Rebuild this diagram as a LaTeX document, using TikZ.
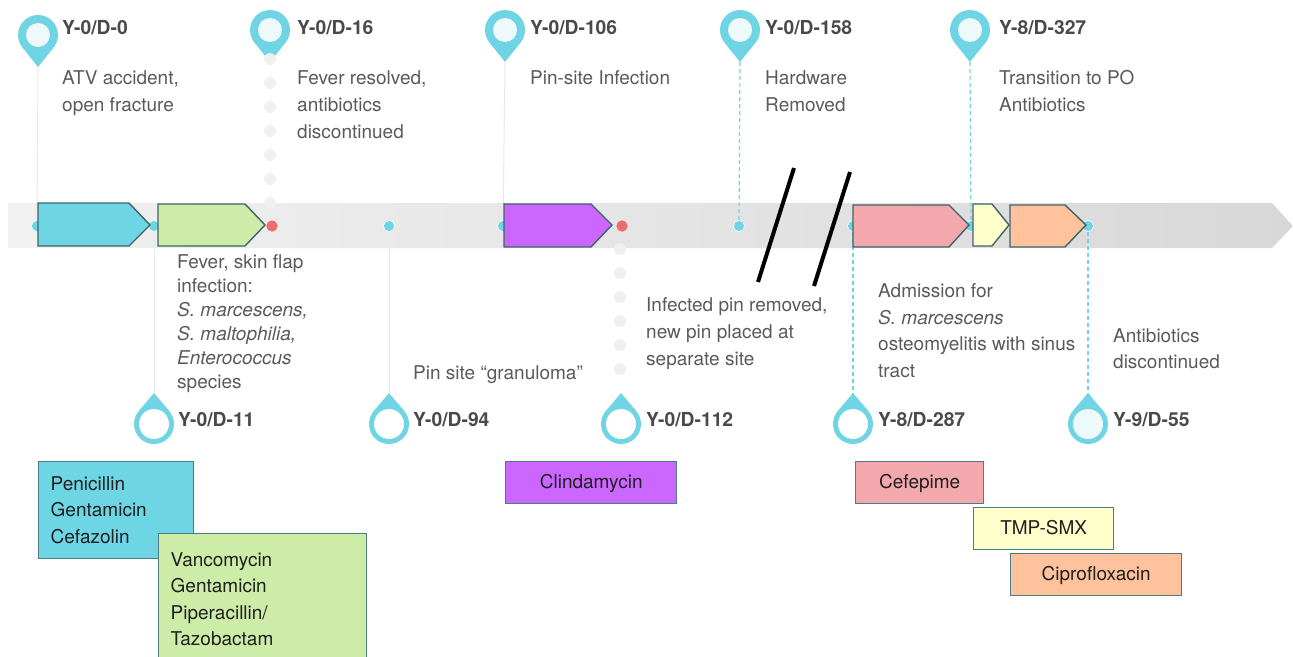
\documentclass[tikz,border=0pt]{standalone}
\usepackage{fontspec}
\setmainfont{TeX Gyre Heros}
\definecolor{pinc}{HTML}{6FD4E3}
\definecolor{pinin}{HTML}{EEF9FB}
\definecolor{arrcyan}{HTML}{6DD5E3}
\definecolor{arrgreen}{HTML}{CDECA8}
\definecolor{arrpurple}{HTML}{CB66FF}
\definecolor{arrpink}{HTML}{F3A8AD}
\definecolor{arryellow}{HTML}{FFFFCC}
\definecolor{arrorange}{HTML}{FEC39C}
\definecolor{edgec}{HTML}{3E6468}
\definecolor{boxedge}{HTML}{4D7D83}
\definecolor{reddot}{HTML}{EE6B6F}
\definecolor{txtgray}{HTML}{5A5A5A}
\definecolor{lblgray}{HTML}{4A4A4A}
\definecolor{chaindot}{HTML}{F0F0F0}
\definecolor{thinline}{HTML}{E8E8E8}
\definecolor{bandl}{HTML}{F1F1F1}
\definecolor{bandr}{HTML}{D8D8D8}
\begin{document}
\begin{tikzpicture}[x=1pt,y=-1pt,
  lbl/.style={anchor=base west, inner sep=0pt, font=\fontsize{19.3}{22}\selectfont\bfseries, text=lblgray},
  note/.style={anchor=base west, inner sep=0pt, align=left, font=\fontsize{19}{27}\selectfont, text=txtgray},
  drug/.style={draw=boxedge, line width=1.4pt, font=\fontsize{19}{26.5}\selectfont, text=black!88, inner sep=0pt, anchor=north west},
  drug1/.style={drug, minimum height=42pt, text height=15pt, text depth=3pt},
  cdot/.style={circle, fill=pinc, draw=white, line width=0.5pt, minimum size=11pt, inner sep=0pt},
  rdot/.style={circle, fill=reddot, minimum size=11pt, inner sep=0pt},
  gdot/.style={circle, fill=chaindot, minimum size=12pt, inner sep=0pt},
  thinln/.style={draw=thinline, line width=1pt},
  dashc/.style={draw=pinc, line width=1.2pt, dash pattern=on 4pt off 3pt},
  tl/.style={draw=edgec, line width=1.4pt, line join=miter},
  slash/.style={draw=black, line width=4pt},
  pics/pintop/.style={code={
    \fill[pinc] (0,0) circle (20pt);
    \fill[pinc] (0,32) -- (-15.6,12.5) -- (15.6,12.5) -- cycle;
    \fill[pinin] (0,0) circle (12pt);
    \coordinate (-tip) at (0,32);
  }},
  pics/pinbot/.style={code={
    \fill[pinc] (0,0) circle (20pt);
    \fill[pinc] (0,-31) -- (-15.3,-12.9) -- (15.3,-12.9) -- cycle;
    \fill[#1] (0,0) circle (15pt);
    \coordinate (-tip) at (0,-31);
  }},
  pics/pinbot/.default=white
]
\useasboundingbox (0,0) rectangle (1293,656);
\clip (0,0) rectangle (1293,656);

% timeline band
\shade[left color=bandl, right color=bandr] (8,203) -- (1272,203) -- (1293,226) -- (1272,248) -- (8,248) -- cycle;

% pins
\pic (t0) at (38,35) {pintop};
\pic (t16) at (270,30) {pintop};
\pic (t106) at (505,30) {pintop};
\pic (t158) at (740,30) {pintop};
\pic (t327) at (970,30) {pintop};
\pic (b11) at (154,424) {pinbot};
\pic (b94) at (389,424) {pinbot};
\pic (b112) at (621,424) {pinbot};
\pic (b287) at (853,424) {pinbot};
\pic (b55) at (1088,424) {pinbot=pinin};

% dots on the band
\node[cdot] (d0) at (37,226) {};
\node[cdot] (d11) at (154,226) {};
\node[rdot] (d16) at (272,226) {};
\node[cdot] (d94) at (389,226) {};
\node[cdot] (d106) at (503,226) {};
\node[rdot] (d112) at (622,226) {};
\node[cdot] (d158) at (739,226) {};
\node[cdot] (d287) at (853,226) {};
\node[cdot] (d327) at (971,226) {};
\node[cdot] (d55) at (1088,226) {};

% connectors
\draw[thinln] (t0-tip) -- (d0);
\draw[thinln] (d11) -- (b11-tip);
\draw[thinln] (d94) -- (b94-tip);
\draw[thinln] (t106-tip) -- (d106);
\draw[dashc] (t158-tip) -- (d158);
\draw[dashc] (t327-tip) -- (d327);
\draw[dashc] (d287) -- (b287-tip);
\draw[dashc] (d55) -- (b55-tip);

% dotted chains
\foreach \yy [count=\i] in {59,83,107,131,155,179,203} \node[gdot] (c16-\i) at (270,\yy) {};
\foreach \yy [count=\i] in {249,273,297,321,345,369} \node[gdot] (c112-\i) at (620,\yy) {};

% redraw dots over the lines
\node[cdot] at (d0) {};
\node[cdot] at (d11) {};
\node[rdot] at (d16) {};
\node[cdot] at (d94) {};
\node[cdot] at (d106) {};
\node[rdot] at (d112) {};
\node[cdot] at (d158) {};
\node[cdot] at (d287) {};
\node[cdot] at (d327) {};
\node[cdot] at (d55) {};

% therapy arrows
\draw[tl, fill=arrcyan] (38,203) -- (129,203) -- (150,225) -- (129,246) -- (38,246) -- cycle;
\draw[tl, fill=arrgreen] (158,204) -- (245,204) -- (265,225) -- (245,246) -- (158,246) -- cycle;
\draw[tl, fill=arrpurple] (504,204) -- (591,204) -- (612,225) -- (591,247) -- (504,247) -- cycle;
\draw[tl, fill=arrpink] (853,205) -- (949,205) -- (969,225) -- (949,247) -- (853,247) -- cycle;
\draw[tl, fill=arryellow] (973,204) -- (992,204) -- (1009,225) -- (992,246) -- (973,246) -- cycle;
\draw[tl, fill=arrorange] (1010,205) -- (1065,205) -- (1086,225) -- (1065,247) -- (1010,247) -- cycle;

% break marks
\draw[slash] (794,168) -- (758,282);
\draw[slash] (850,172) -- (814,286);

% date labels
\node[lbl] (l0) at (62,34) {Y-0/D-0};
\node[lbl] (l16) at (297,34) {Y-0/D-16};
\node[lbl] (l106) at (530,34) {Y-0/D-106};
\node[lbl] (l158) at (765,34) {Y-0/D-158};
\node[lbl] (l327) at (999,34) {Y-8/D-327};
\node[lbl] (l11) at (178,426) {Y-0/D-11};
\node[lbl] (l94) at (413,426) {Y-0/D-94};
\node[lbl] (l112) at (646,426) {Y-0/D-112};
\node[lbl] (l287) at (878,426) {Y-8/D-287};
\node[lbl] (l55) at (1113,426) {Y-9/D-55};

% event notes (anchor = baseline of the last line)
\node[note] (n0) at (62,111) {ATV accident,\\open fracture};
\node[note] (n16) at (297,138) {Fever resolved,\\antibiotics\\discontinued};
\node[note] (n106) at (530,84) {Pin-site Infection};
\node[note] (n158) at (765,111) {Hardware\\Removed};
\node[note] (n327) at (999,111) {Transition to PO\\Antibiotics};
\node[note, font=\fontsize{19}{24}\selectfont] (n11) at (177,388) {Fever, skin flap\\infection:\\\textit{S. marcescens,}\\\textit{S. maltophilia,}\\\textit{Enterococcus}\\species};
\node[note] (n94) at (413,379) {Pin site “granuloma”};
\node[note] (n112) at (646,365) {Infected pin removed,\\new pin placed at\\separate site};
\node[note, font=\fontsize{19}{26.4}\selectfont] (n287) at (878,377) {Admission for\\\textit{S. marcescens}\\osteomyelitis with sinus\\tract};
\node[note, font=\fontsize{19}{26.5}\selectfont] (n55) at (1113,368.5) {Antibiotics\\discontinued};

% drug boxes
\node[drug, fill=arrcyan, text width=131pt, inner xsep=12pt, minimum height=97pt, align=left] (bcy) at (38,461) {Penicillin\\Gentamicin\\Cefazolin};
\node[drug, fill=arrgreen, text width=184pt, inner xsep=12pt, minimum height=131pt, align=left] (bgr) at (158,533) {Vancomycin\\Gentamicin\\Piperacillin/\\Tazobactam};
\node[drug1, fill=arrpurple, minimum width=171pt] (bpu) at (505,461) {Clindamycin};
\node[drug1, fill=arrpink, minimum width=128pt] (bpk) at (855,461) {Cefepime};
\node[drug1, fill=arryellow, minimum width=140pt] (bye) at (973,507) {TMP-SMX};
\node[drug1, fill=arrorange, minimum width=171pt] (bor) at (1010,553) {Ciprofloxacin};
\end{tikzpicture}
\end{document}
